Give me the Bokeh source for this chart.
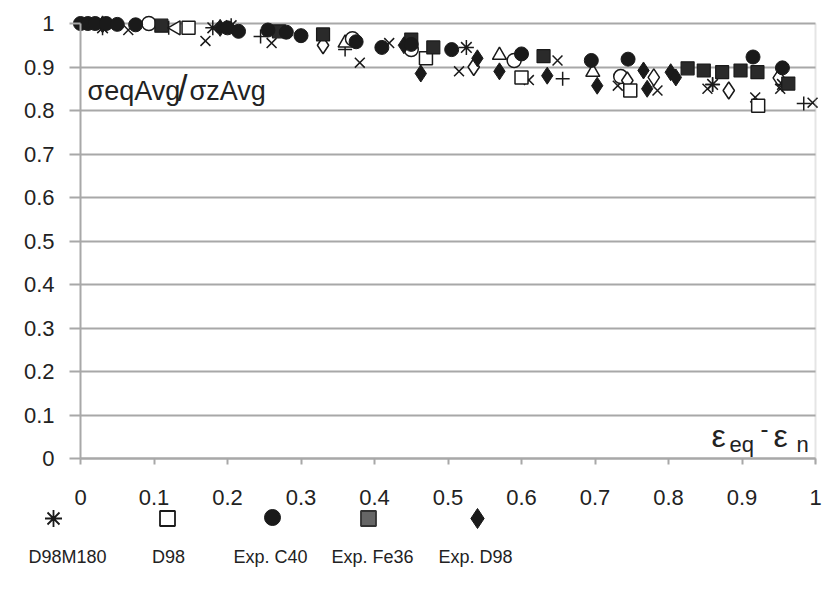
import math
from bokeh.plotting import figure
from bokeh.models import Range1d, FixedTicker, BoxAnnotation, Label
from bokeh.embed import file_html
from bokeh.resources import INLINE
from bokeh.core.properties import value

# ---------------- data ----------------
x_ticks = [0.0, 0.1, 0.2, 0.3, 0.4, 0.5, 0.6, 0.7, 0.8, 0.9, 1.0]
x_tick_labels = ["0", "0.1", "0.2", "0.3", "0.4", "0.5", "0.6", "0.7", "0.8", "0.9", "1"]
y_ticks = [0.0, 0.1, 0.2, 0.3, 0.4, 0.5, 0.6, 0.7, 0.8, 0.9, 1.0]
y_tick_labels = ["0", "0.1", "0.2", "0.3", "0.4", "0.5", "0.6", "0.7", "0.8", "0.9", "1"]

# unlabelled series (simulation variants)
x_cross = [0.065, 0.17, 0.26, 0.38, 0.42, 0.515, 0.61, 0.649, 0.731, 0.785, 0.853, 0.918, 0.952, 0.996]
y_cross = [0.985, 0.96, 0.955, 0.91, 0.955, 0.89, 0.87, 0.915, 0.857, 0.846, 0.85, 0.83, 0.85, 0.818]
x_plus = [0.12, 0.245, 0.36, 0.656, 0.86, 0.984]
y_plus = [0.99, 0.97, 0.94, 0.873, 0.86, 0.816]
x_tri = [0.36, 0.57, 0.697]
y_tri = [0.955, 0.927, 0.888]
x_ocirc = [0.093, 0.37, 0.45, 0.59, 0.735]
y_ocirc = [1.0, 0.965, 0.94, 0.915, 0.878]
x_odiam = [0.33, 0.535, 0.744, 0.78, 0.882, 0.95]
y_odiam = [0.95, 0.9, 0.869, 0.876, 0.846, 0.875]
x_ltri = [0.13]
y_ltri = [0.99]

# legend series
x_d98m180 = [0.03, 0.18, 0.205, 0.525, 0.86, 0.955]
y_d98m180 = [0.99, 0.99, 0.995, 0.945, 0.86, 0.86]
x_d98 = [0.147, 0.47, 0.6, 0.748, 0.922]
y_d98 = [0.99, 0.92, 0.876, 0.846, 0.811]
x_c40 = [0.0, 0.01, 0.02, 0.035, 0.05, 0.075, 0.2, 0.215, 0.255, 0.28, 0.3, 0.375, 0.41, 0.45,
         0.505, 0.6, 0.695, 0.745, 0.915, 0.955]
y_c40 = [1.0, 1.0, 1.0, 1.0, 0.998, 0.997, 0.99, 0.982, 0.985, 0.98, 0.972, 0.958, 0.945, 0.952,
         0.94, 0.93, 0.915, 0.918, 0.923, 0.898]
x_fe36 = [0.11, 0.27, 0.33, 0.45, 0.48, 0.63, 0.826, 0.848, 0.873, 0.898, 0.921, 0.963]
y_fe36 = [0.995, 0.982, 0.975, 0.963, 0.945, 0.925, 0.897, 0.892, 0.888, 0.892, 0.888, 0.862]
x_expd98 = [0.03, 0.19, 0.44, 0.463, 0.54, 0.57, 0.635, 0.703, 0.766, 0.771, 0.803, 0.81]
y_expd98 = [0.998, 0.99, 0.95, 0.885, 0.92, 0.89, 0.88, 0.857, 0.892, 0.85, 0.888, 0.876]

legend_labels = ["D98M180", "D98", "Exp. C40", "Exp. Fe36", "Exp. D98"]

# ---------------- layout helpers (pixel -> data for the page geometry) ----------------
W, H = 822, 589
X0, XS = 80.0, 735.0   # pixel of x=0, pixels per unit
Y0, YS = 458.0, 435.0  # pixel of y=0, pixels per unit


def px2x(px):
    return (px - X0) / XS


def py2y(py):
    return (Y0 - py) / YS


FONT = "Liberation Sans"
TXT = "#222222"
GRAY = "#a8a8a8"
INK = "#1a1a1a"

p = figure(width=W, height=H,
           x_range=Range1d(px2x(0), px2x(W)), y_range=Range1d(py2y(H), py2y(0)),
           output_backend="svg", toolbar_location=None,
           min_border_left=0, min_border_right=0, min_border_top=0, min_border_bottom=0)
p.outline_line_color = None
p.background_fill_color = "white"
p.border_fill_color = "white"

p.xgrid.visible = False
p.ygrid.ticker = FixedTicker(ticks=y_ticks)
p.ygrid.grid_line_color = GRAY
p.ygrid.grid_line_width = 2
p.ygrid.bounds = (0, 1)
p.ygrid.cross_bounds = (0, 1)

for ax in (p.xaxis[0], p.yaxis[0]):
    ax.axis_line_color = GRAY
    ax.axis_line_width = 2
    ax.major_tick_line_color = GRAY
    ax.major_tick_line_width = 2
    ax.minor_tick_line_color = None
    ax.major_tick_in = 0
    ax.bounds = (0, 1)
    ax.fixed_location = 0
    ax.major_label_text_font = FONT
    ax.major_label_text_font_size = "22px"
    ax.major_label_text_color = TXT

p.xaxis.ticker = FixedTicker(ticks=x_ticks)
p.xaxis.major_label_overrides = {t: l for t, l in zip(x_ticks, x_tick_labels)}
p.xaxis.major_tick_out = 6
p.xaxis.major_label_standoff = 25

p.yaxis.ticker = FixedTicker(ticks=y_ticks)
p.yaxis.major_label_overrides = {t: l for t, l in zip(y_ticks, y_tick_labels)}
p.yaxis.major_tick_out = 11
p.yaxis.major_label_standoff = 15

# right border of the plot area
p.add_layout(BoxAnnotation(left=1, right=1, bottom=-0.012, top=1, fill_alpha=0,
                           line_color=GRAY, line_width=2))

SZ = 14
# unlabelled series
p.scatter(x_cross, y_cross, marker="x", size=SZ, line_color=INK, line_width=1.5)
p.scatter(x_plus, y_plus, marker="cross", size=SZ, line_color=INK, line_width=1.5)
p.scatter(x_tri, y_tri, marker="triangle", size=SZ, line_color=INK, fill_color="white", line_width=1.5)
p.scatter(x_ocirc, y_ocirc, marker="circle", size=SZ, line_color=INK, fill_color="white", line_width=1.5)
p.scatter(x_odiam, y_odiam, marker="diamond", size=SZ + 3, line_color=INK, fill_color="white", line_width=1.5)
p.scatter(x_ltri, y_ltri, marker="triangle", angle=math.pi / 2, size=SZ, line_color=INK,
          fill_color="white", line_width=1.5)
# legend series
p.scatter(x_d98, y_d98, marker="square", size=SZ - 1, line_color=INK, fill_color="white", line_width=1.5)
p.scatter(x_d98m180, y_d98m180, marker="asterisk", size=SZ + 1, line_color=INK, line_width=1.5)
p.scatter(x_fe36, y_fe36, marker="square", size=SZ - 1, line_color=INK, fill_color="#2a2a2a", line_width=1.2)
p.scatter(x_expd98, y_expd98, marker="diamond", size=SZ + 3, line_color=INK, fill_color=INK)
p.scatter(x_c40, y_c40, marker="circle", size=SZ, line_color=INK, fill_color=INK)

# axis titles placed inside the plot area
p.add_layout(Label(x=px2x(87), y=py2y(90), text="σeqAvg", text_font=FONT, text_font_size="27px",
                   text_color=TXT, text_baseline="alphabetic"))
p.add_layout(Label(x=px2x(177), y=py2y(88), text="/", text_font=FONT, text_font_size="36px",
                   text_color=TXT, text_baseline="alphabetic"))
p.add_layout(Label(x=px2x(189), y=py2y(90), text="σzAvg", text_font=FONT, text_font_size="27px",
                   text_color=TXT, text_baseline="alphabetic"))

p.add_layout(Label(x=px2x(711), y=py2y(435), text="ε", text_font=FONT, text_font_size="32px",
                   text_color=TXT, text_baseline="alphabetic"))
p.add_layout(Label(x=px2x(729), y=py2y(444), text="eq", text_font=FONT, text_font_size="22px",
                   text_color=TXT, text_baseline="alphabetic"))
p.add_layout(Label(x=px2x(760), y=py2y(428), text="-", text_font=FONT, text_font_size="24px",
                   text_color=TXT, text_baseline="alphabetic"))
p.add_layout(Label(x=px2x(773), y=py2y(435), text="ε", text_font=FONT, text_font_size="32px",
                   text_color=TXT, text_baseline="alphabetic"))
p.add_layout(Label(x=px2x(796), y=py2y(444), text="n", text_font=FONT, text_font_size="22px",
                   text_color=TXT, text_baseline="alphabetic"))

# ---------------- legend (below the axis) ----------------
mk_px = [53, 167, 272, 368, 477]
lbl_px = [67, 168, 270, 372, 475]
mk_y = py2y(518)
lbl_y = py2y(556)
p.scatter([px2x(mk_px[0])], [mk_y], marker="asterisk", size=17, line_color=INK, line_width=1.8)
p.scatter([px2x(mk_px[1])], [mk_y], marker="square", size=15, line_color=INK, fill_color="white", line_width=1.8)
p.scatter([px2x(mk_px[2])], [py2y(517)], marker="circle", size=16, line_color=INK, fill_color=INK)
p.scatter([px2x(mk_px[3])], [mk_y], marker="square", size=15, line_color="#333333", fill_color="#666666",
          line_width=1.8)
p.scatter([px2x(mk_px[4])], [mk_y], marker="diamond", size=20, line_color=INK, fill_color=INK)
p.text(x=[px2x(v) for v in lbl_px], y=[lbl_y] * len(lbl_px), text=legend_labels, text_font=value(FONT),
       text_font_size="18px", text_color=TXT, text_align="center", text_baseline="middle")

open("out.html", "w").write(file_html(p, INLINE))
